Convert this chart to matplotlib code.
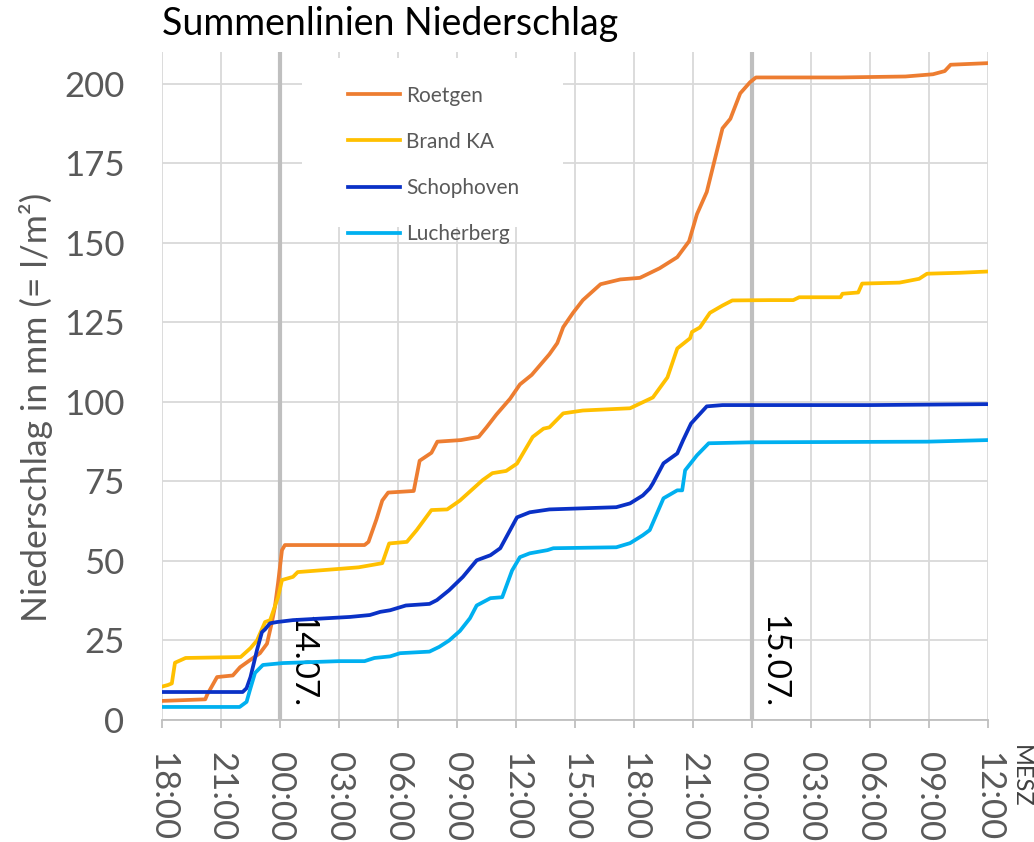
import matplotlib
matplotlib.use("Agg")
import matplotlib.pyplot as plt
from matplotlib.patches import Rectangle

plt.rcParams['font.family'] = ['Lato', 'DejaVu Sans']

# Stunden seit 13.07. 18:00 (MESZ)
t_roetgen = [0, 2.2, 2.3, 2.8, 3.6, 3.97, 4.47, 4.98, 5.34, 5.59, 5.74, 5.9, 6.1, 6.25,
             10.3, 10.5, 10.9, 11.2, 11.5, 12.8, 13.1, 13.7, 14.0, 15.2, 16.1, 16.5,
             17.0, 17.7, 18.2, 18.8, 19.7, 20.1, 20.4, 20.9, 21.4, 22.3, 23.3, 24.3,
             25.3, 26.2, 26.8, 27.2, 27.7, 28.1, 28.5, 28.9, 29.4, 29.9, 30.2, 34.5,
             37.8, 39.2, 39.8, 40.1, 42]
v_roetgen = [6, 6.5, 8, 13.5, 14, 16.6, 18.8, 21, 24, 30.8, 35.5, 43, 53.4, 55,
             55, 56, 63, 69, 71.5, 72, 81.5, 84, 87.5, 88, 89, 92,
             96, 101, 105.5, 108.5, 115, 118.5, 123.5, 128, 132, 137, 138.5, 139,
             142, 145.5, 150.5, 159, 166, 176, 186, 189, 197, 200.5, 202, 202,
             202.3, 203, 204, 206, 206.5]

t_brand = [0, 0.3, 0.5, 0.66, 1.2, 4.0, 4.5, 4.83, 5.24, 5.5, 5.9, 6.1, 6.66, 6.9,
           9.0, 10.0, 11.2, 11.55, 12.45, 12.95, 13.7, 14.5, 15.15, 16.3, 16.8, 17.5,
           18.05, 18.85, 19.4, 19.7, 20.4, 21.4, 23.8, 24.96, 25.7, 26.2, 26.85, 26.95,
           27.35, 27.86, 28.5, 29.0, 30.9, 32.1, 32.4, 34.5, 34.6, 35.4, 35.6, 37.5,
           38.5, 38.9, 40.6, 42]
v_brand = [10.5, 11, 11.5, 18, 19.5, 19.8, 22.6, 25, 30.8, 31.4, 38.6, 44, 45, 46.5,
           47.5, 48, 49.3, 55.5, 56, 59.7, 66, 66.2, 69, 75.4, 77.6, 78.3,
           80.6, 89, 91.6, 92, 96.4, 97.3, 98, 101.4, 107.7, 116.8, 120, 122,
           123.4, 128, 130.3, 131.9, 132, 132, 132.9, 132.9, 134, 134.4, 137.2, 137.5,
           138.7, 140.3, 140.6, 141]

t_schoph = [0, 4.1, 4.3, 4.5, 4.83, 5.08, 5.24, 5.49, 5.85, 6.66, 9.56, 10.57, 11.1,
            11.6, 12.4, 13.6, 13.98, 14.6, 15.3, 16.0, 16.7, 17.2, 17.7, 18.05, 18.7,
            19.7, 23.1, 23.8, 24.45, 24.8, 24.96, 25.5, 26.2, 26.5, 26.9, 27.7, 28.5,
            36, 42]
v_schoph = [8.8, 8.8, 10, 13.5, 22, 27.6, 28.5, 30.4, 30.8, 31.4, 32.4, 33, 34,
            34.5, 36, 36.5, 37.7, 40.8, 45, 50.2, 51.8, 54, 59.7, 63.7, 65.3,
            66.2, 66.9, 68.1, 70.6, 72.8, 74.4, 80.7, 83.8, 88, 93.2, 98.6, 99,
            99, 99.3]

t_lucher = [0, 3.95, 4.3, 4.47, 4.73, 5.13, 6.15, 9.0, 10.3, 10.8, 11.6, 12.1, 13.6,
            14.1, 14.6, 15.15, 15.66, 16.0, 16.7, 17.3, 17.8, 18.2, 18.7, 19.6, 19.9,
            23.1, 23.8, 24.45, 24.8, 25.5, 26.2, 26.45, 26.6, 27.2, 27.8, 30, 38.9, 42]
v_lucher = [4.1, 4.1, 5.7, 9.4, 14.8, 17.3, 17.9, 18.5, 18.5, 19.5, 20, 21, 21.5,
            23, 25, 28, 32, 36, 38.3, 38.6, 47, 51.2, 52.4, 53.4, 54,
            54.3, 55.6, 58.1, 59.7, 69.7, 72.2, 72.2, 78.5, 83.2, 87, 87.3, 87.5, 88]

names = ['Roetgen', 'Brand KA', 'Schophoven', 'Lucherberg']
colors = ['#ED7D31', '#FFC000', '#0A31C6', '#00B0F0']

xtick_pos = list(range(0, 43, 3))
xtick_labels = ['18:00', '21:00', '00:00', '03:00', '06:00', '09:00', '12:00',
                '15:00', '18:00', '21:00', '00:00', '03:00', '06:00', '09:00', '12:00']
day_pos = [6, 30]
day_labels = ['14.07.', '15.07.']

fig = plt.figure(figsize=(10.34, 8.42), dpi=100)
ax = fig.add_axes([162/1034, 1-720/842, 826/1034, 668/842])

ax.set_xlim(0, 42)
ax.set_ylim(0, 210)
ax.set_yticks(range(0, 201, 25))
ax.set_xticks(xtick_pos)
ax.set_xticklabels(xtick_labels, rotation=-90)
ax.grid(True, color='#D9D9D9', lw=1.3, zorder=0)
ax.set_axisbelow(True)
for s in ['top', 'right', 'left']:
    ax.spines[s].set_visible(False)
ax.spines['bottom'].set_color('#BFBFBF')
ax.spines['bottom'].set_linewidth(1.3)
ax.tick_params(axis='y', length=0, labelsize=25, labelcolor='#595959', pad=27)
ax.tick_params(axis='x', length=6, width=1.3, color='#BFBFBF', labelsize=25,
               labelcolor='#595959', pad=17)

for p, lab in zip(day_pos, day_labels):
    ax.axvline(p, color='#BFBFBF', lw=3, zorder=1.5)
    ax.text(p + 0.3, 33, lab, rotation=-90, ha='left', va='top', fontsize=24, color='black')

series = [(t_roetgen, v_roetgen), (t_brand, v_brand), (t_schoph, v_schoph), (t_lucher, v_lucher)]
for (tt, vv), n, c in zip(series, names, colors):
    ax.plot(tt, vv, color=c, lw=2.7, label=n, zorder=3, solid_joinstyle='round')

# weisser Hintergrund hinter der Legende
ax.add_patch(Rectangle((7.1, 155), 13.3, 53, facecolor='white', edgecolor='none', zorder=1.8))
ax.legend(loc='upper left', bbox_to_anchor=(329/1034, 1-67/842), bbox_transform=fig.transFigure,
          frameon=False, fontsize=15, labelcolor='#595959', handlelength=2.5,
          handletextpad=0.3, labelspacing=1.25)

fig.text(162/1034, 1-6/842, 'Summenlinien Niederschlag', fontsize=27, ha='left', va='top', color='black')
fig.text(36/1034, 1-407/842, 'Niederschlag in mm (= l/m²)', fontsize=25.5, rotation=90,
         ha='center', va='center', color='#595959')
fig.text(1010/1034, 1-745/842, 'MESZ', fontsize=17, rotation=-90, ha='left', va='top', color='#404040')

fig.savefig('out.png', dpi=100)
